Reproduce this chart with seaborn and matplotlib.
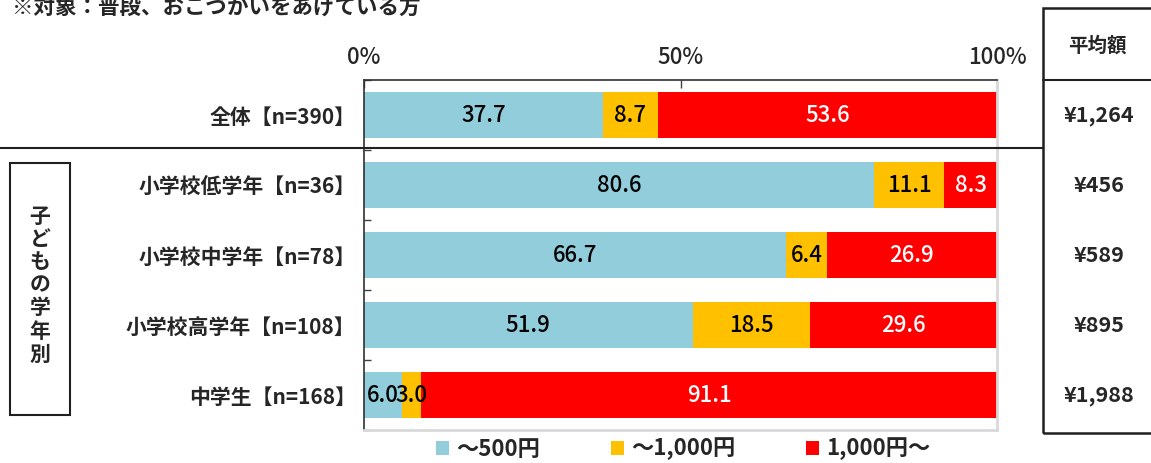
import matplotlib
matplotlib.use("Agg")
import matplotlib.pyplot as plt
import seaborn as sns
import pandas as pd
import numpy as np
from matplotlib.patches import Patch, Rectangle
from matplotlib.lines import Line2D

# ---- data ----
categories = ["全体【n=390】", "小学校低学年【n=36】", "小学校中学年【n=78】",
              "小学校高学年【n=108】", "中学生【n=168】"]
under_500 = [37.7, 80.6, 66.7, 51.9, 6.0]
under_1000 = [8.7, 11.1, 6.4, 18.5, 3.0]
over_1000 = [53.6, 8.3, 26.9, 29.6, 91.1]
series_names = ["～500円", "～1,000円", "1,000円～"]
average_amounts = ["¥1,264", "¥456", "¥589", "¥895", "¥1,988"]
x_ticks = [0, 50, 100]
x_tick_labels = ["0%", "50%", "100%"]
title = "※対象：普段、おこづかいをあげている方"
group_label = "子どもの学年別"
table_header = "平均額"

colors = ["#92CDDC", "#FFC000", "#FF0000"]
label_colors = ["black", "black", "white"]

sns.set_theme(style="white")
cjk = "Noto Sans CJK JP"
plt.rcParams["font.family"] = [cjk, "DejaVu Sans"]

df = pd.DataFrame({"cat": categories, "a": under_500, "b": under_1000, "c": over_1000})
df["c1"] = df["a"]
df["c2"] = df["a"] + df["b"]
df["c3"] = df["a"] + df["b"] + df["c"]

W, H = 1151, 463
fig = plt.figure(figsize=(W / 100, H / 100), dpi=100)
ax = fig.add_axes([364 / W, 1 - 430 / H, (997 - 364) / W, (430 - 80) / H])

bw = 0.67
for col, c in zip(["c3", "c2", "c1"], colors[::-1]):
    sns.barplot(data=df, x=col, y="cat", orient="h", color=c, width=bw,
                saturation=1, ax=ax, edgecolor="none")

# value labels
for i in range(len(categories)):
    left = 0
    for j, vals in enumerate([under_500, under_1000, over_1000]):
        v = vals[i]
        ax.text(left + v / 2, i, f"{v:.1f}", ha="center", va="center",
                color=label_colors[j], fontsize=16, fontweight="medium")
        left += v

ax.set_xlim(0, 100)
ax.set_ylim(4.5, -0.5)
ax.set_xlabel("")
ax.set_ylabel("")
ax.xaxis.tick_top()
ax.set_xticks(x_ticks)
ax.set_xticklabels(x_tick_labels, fontsize=16, fontweight="medium")
ax.tick_params(axis="x", which="major", direction="in", length=6, width=1,
               color="#404040", pad=8, top=True, bottom=False)
ax.set_yticks(range(len(categories)))
ax.set_yticklabels(categories, fontsize=15, fontweight="bold")
ax.tick_params(axis="y", which="major", length=0, pad=6)
ax.set_yticks(np.arange(-0.5, len(categories), 1.0), minor=True)
ax.tick_params(axis="y", which="minor", direction="in", length=5, width=1,
               color="#404040", left=True)

for s in ["top", "left"]:
    ax.spines[s].set_color("#303030")
    ax.spines[s].set_linewidth(1.2)
for s in ["bottom", "right"]:
    ax.spines[s].set_color("#D9D9D9")
    ax.spines[s].set_linewidth(2)

# title (near the top edge, as in the original)
fig.text(12 / W, 1 - 18 / H, title, fontsize=15.5, fontweight="bold", ha="left", va="bottom")

# separator line
fig.add_artist(Line2D([0, 1043 / W], [1 - 148 / H, 1 - 148 / H], color="#202020", lw=1.5))

# group box
fig.add_artist(Rectangle((10 / W, 1 - 415 / H), 60 / W, (415 - 163) / H, fill=False,
                         edgecolor="#202020", lw=1.5, transform=fig.transFigure))
for k, ch in enumerate(group_label):
    fig.text(40 / W, 1 - (216 + k * 23) / H, ch, fontsize=15, fontweight="bold",
             ha="center", va="center")

# average table
fig.add_artist(Rectangle((1043 / W, 1 - 433 / H), 120 / W, (433 - 8) / H, fill=False,
                         edgecolor="#202020", lw=1.8, transform=fig.transFigure))
fig.add_artist(Line2D([1043 / W, 1], [1 - 80 / H, 1 - 80 / H], color="#202020", lw=1.5))
fig.text(1097 / W, 1 - 46 / H, table_header, fontsize=14, fontweight="bold",
         ha="center", va="center")
for i, amt in enumerate(average_amounts):
    y_disp = ax.transData.transform((0, i))[1]
    fig.text(1099 / W, y_disp / H, amt, fontsize=15.5, fontweight="bold",
             ha="center", va="center")

# legend
handles = [Patch(facecolor=c, edgecolor="none") for c in colors]
fig.legend(handles, series_names, loc="center", bbox_to_anchor=(683 / W, 1 - 449 / H),
           ncol=3, frameon=False, handlelength=0.6, handleheight=0.6, handletextpad=0.3,
           columnspacing=3.2, borderpad=0.1, prop={"size": 16, "weight": "bold"})

fig.savefig("out.png", dpi=100)
